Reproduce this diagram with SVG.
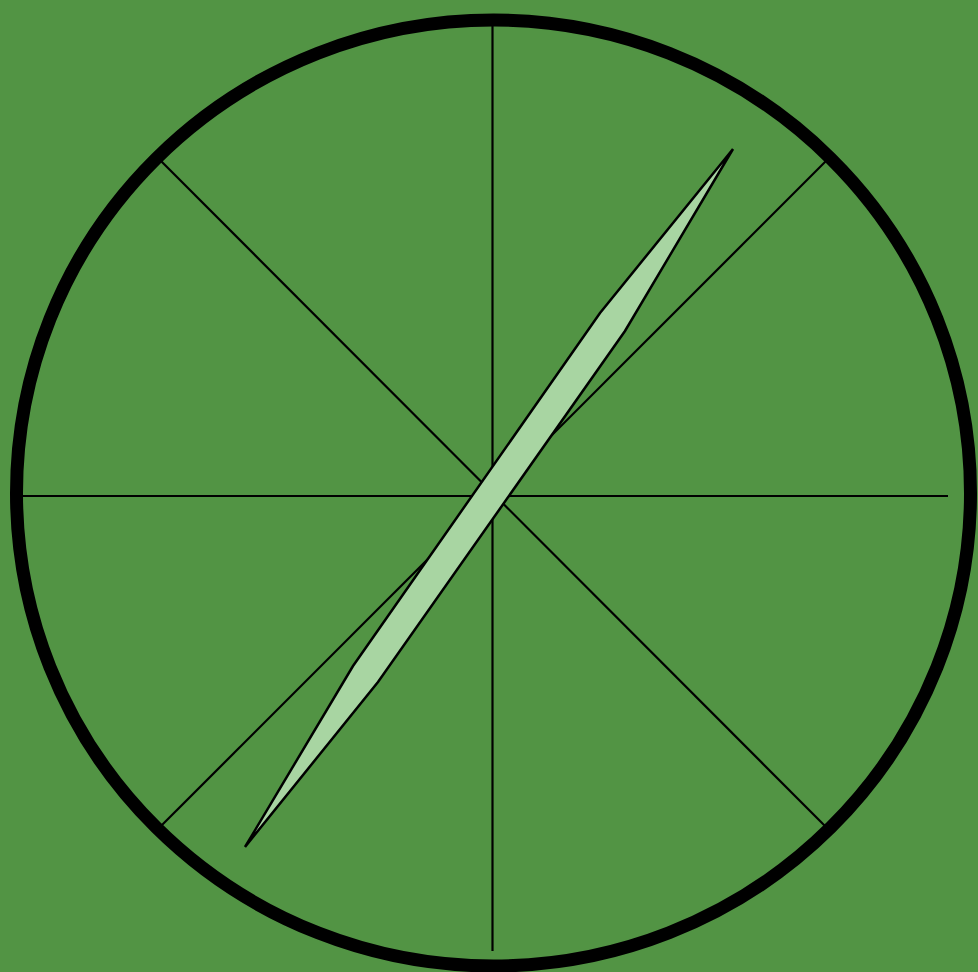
<svg xmlns="http://www.w3.org/2000/svg" width="978" height="972" viewBox="0 0 978 972">
<style>
.spoke{stroke:#000;stroke-width:2.2;fill:none}
.rim{fill:none;stroke:#000;stroke-width:13}
.needle{fill:#a8d5a2;stroke:#000;stroke-width:2.5;stroke-linejoin:miter}
</style>
<rect x="0" y="0" width="978" height="972" fill="#529444"/>
<g id="dial">
<line class="spoke" x1="492.5" y1="24" x2="492.5" y2="951"/>
<line class="spoke" x1="20" y1="496" x2="948" y2="496"/>
<line class="spoke" x1="161" y1="161" x2="826" y2="827"/>
<line class="spoke" x1="828" y1="159" x2="160" y2="827"/>
</g>
<g id="rim">
<ellipse class="rim" cx="493.5" cy="493" rx="477" ry="473"/>
</g>
<g id="needle">
<polygon class="needle" points="733,149 600,313 353,666 245,847 378,682 625,331"/>
</g>
</svg>
